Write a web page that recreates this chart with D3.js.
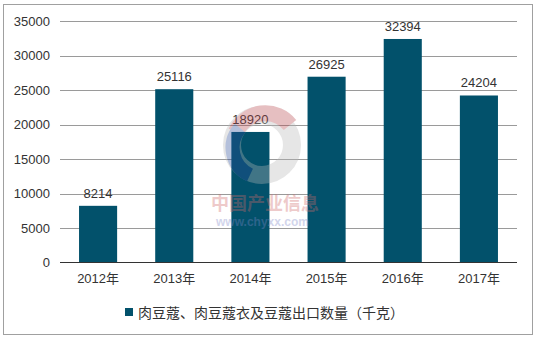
<!DOCTYPE html>
<html><head><meta charset="utf-8">
<script src="https://cdn.jsdelivr.net/npm/d3@7"></script>
<style>body{margin:0;background:#fff}svg{display:block}</style>
</head><body>
<svg id="c" width="536" height="340"></svg>
<script>
const categories = ["2012年","2013年","2014年","2015年","2016年","2017年"];
const values = [8214, 25116, 18920, 26925, 32394, 24204];
const yTicks = [0,5000,10000,15000,20000,25000,30000,35000];
const seriesName = "肉豆蔻、肉豆蔻衣及豆蔻出口数量（千克）";

const svg = d3.select("#c");
const font = "'Liberation Sans', Arial, 'Noto Sans CJK SC', sans-serif";
const color = "#02516b";

svg.append("rect").attr("x",3.5).attr("y",4.5).attr("width",529).attr("height",330)
  .attr("fill","#fff").attr("stroke","#a0a0a0");

const x = d3.scaleBand().domain(categories).range([60,517]).paddingInner(0.5).paddingOuter(0.25);
const y = d3.scaleLinear().domain([0,35000]).range([262.5,21]);

const grid = svg.append("g");
yTicks.forEach(t=>{
  if(t===0) return;
  grid.append("line").attr("x1",60).attr("x2",517).attr("y1",Math.round(y(t))+0.5).attr("y2",Math.round(y(t))+0.5)
    .attr("stroke","#9a9a9a").attr("stroke-width",1);
});

const yAxis = svg.append("g").attr("transform","translate(50,0)")
  .call(d3.axisLeft(y).tickValues(yTicks).tickSize(0).tickPadding(0).tickFormat(d3.format("d")));
yAxis.select(".domain").remove();
yAxis.selectAll("text").attr("font-family",font).attr("font-size",13).attr("fill","#333");

svg.append("g").selectAll("rect").data(values).join("rect")
  .attr("x",(d,i)=>x(categories[i])).attr("width",x.bandwidth())
  .attr("y",d=>y(d)).attr("height",d=>y(0)-y(d)).attr("fill",color);

svg.append("g").selectAll("text").data(values).join("text")
  .attr("x",(d,i)=>x(categories[i])+x.bandwidth()/2).attr("y",d=>y(d)-8)
  .attr("text-anchor","middle").attr("font-family",font).attr("font-size",13).attr("fill","#333")
  .text(d=>d);

// watermark (over bars)
const wm = svg.append("g").attr("opacity",0.35);
wm.append("circle").attr("cx",262).attr("cy",145).attr("r",30).attr("fill","none").attr("stroke","#b8b8b8").attr("stroke-width",18);
wm.append("path").attr("d","M236,132 A32,32 0 0 1 290,125").attr("fill","none").attr("stroke","#b84a50").attr("stroke-width",16);
wm.append("path").attr("d","M240,128 A30,30 0 0 0 250,175").attr("fill","none").attr("stroke","#2a4d9a").attr("stroke-width",14);
wm.append("text").attr("x",211).attr("y",210).attr("font-family","'Noto Sans CJK SC'").attr("font-size",18).attr("font-weight","bold").attr("fill","#d06a6a").text("中国产业信息");
wm.append("text").attr("x",216).attr("y",226).attr("font-family",font).attr("font-size",12).attr("font-weight","bold").attr("fill","#7f88c8").text("www.chyxx.com");

const xAxis = svg.append("g").attr("transform","translate(0,262.5)")
  .call(d3.axisBottom(x).tickSize(0).tickPadding(11));
xAxis.select(".domain").attr("d","M60,0H517").attr("stroke","#333");
xAxis.selectAll("text").attr("font-family",font).attr("font-size",13).attr("fill","#333");

svg.append("rect").attr("x",125).attr("y",308).attr("width",8).attr("height",8).attr("fill",color);
svg.append("text").attr("x",138).attr("y",318).attr("font-family","'Noto Sans CJK SC', sans-serif").attr("font-size",14).attr("fill","#333").text(seriesName);
</script>
</body></html>
